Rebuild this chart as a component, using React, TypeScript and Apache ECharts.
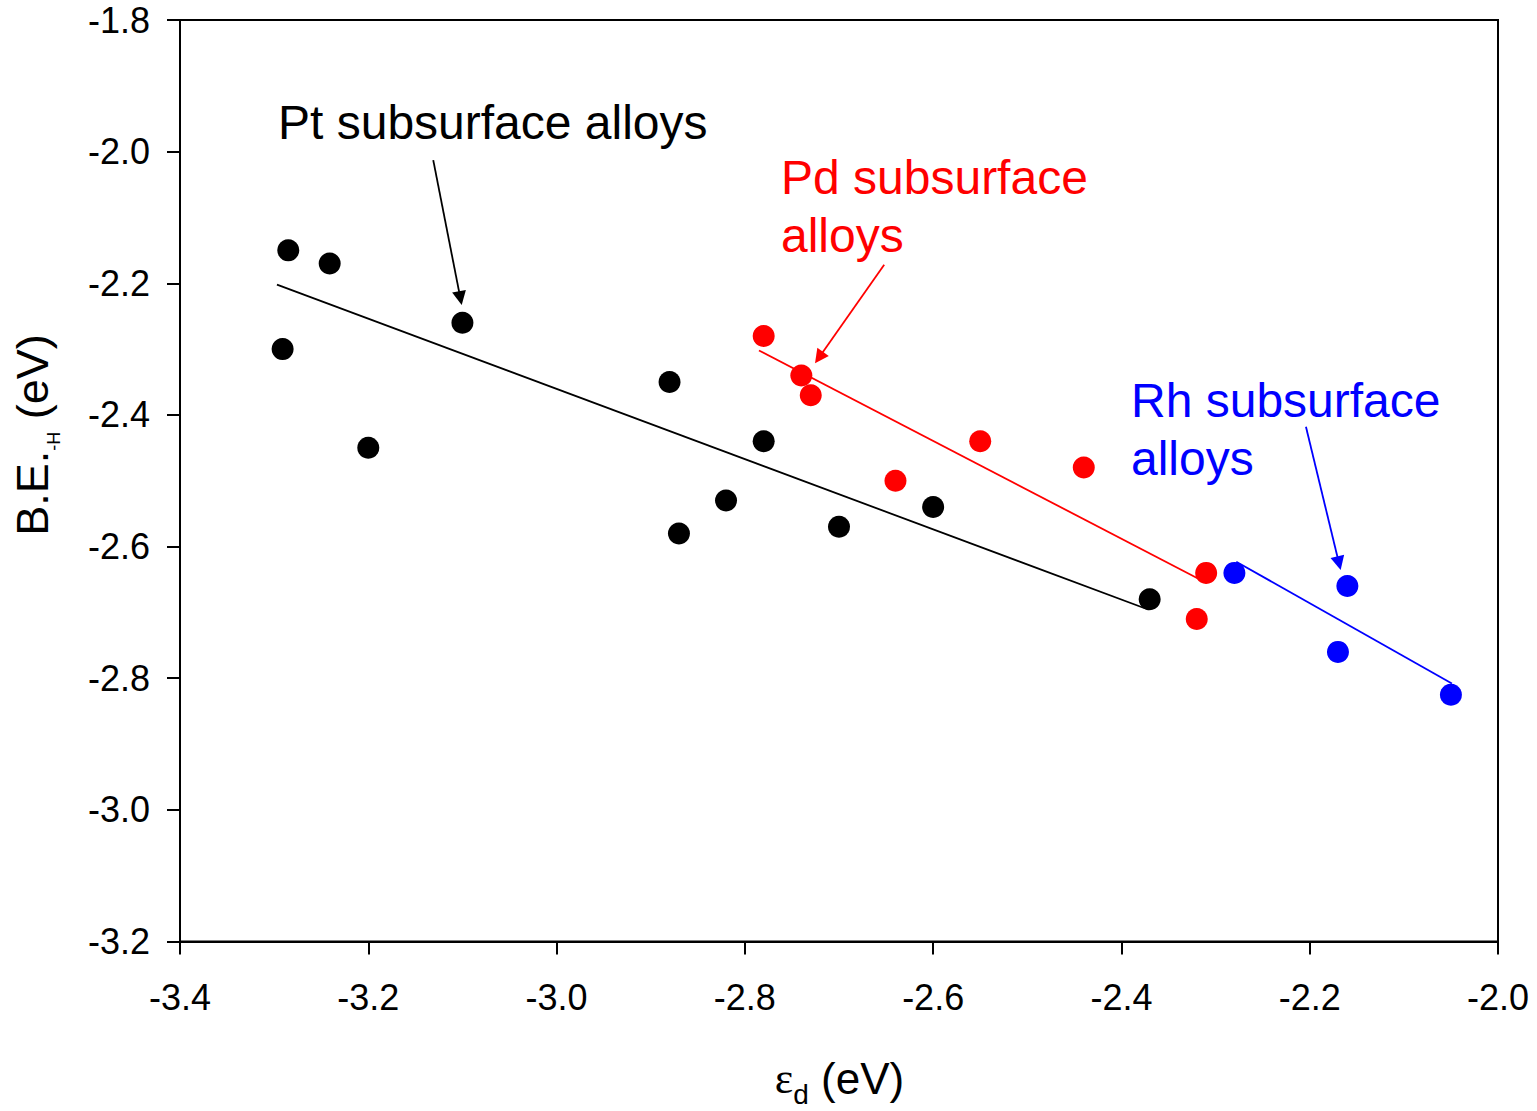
import React, { useEffect, useRef } from "react";
import * as echarts from "echarts";

// Pt subsurface alloys (black)
const ptX = [-3.285, -3.241, -3.291, -3.2, -3.1, -2.88, -2.87, -2.82, -2.78, -2.7, -2.6, -2.37];
const ptY = [-2.15, -2.17, -2.3, -2.45, -2.26, -2.35, -2.58, -2.53, -2.44, -2.57, -2.54, -2.68];
// Pd subsurface alloys (red)
const pdX = [-2.78, -2.74, -2.73, -2.55, -2.64, -2.44, -2.31, -2.32];
const pdY = [-2.28, -2.34, -2.37, -2.44, -2.5, -2.48, -2.64, -2.71];
// Rh subsurface alloys (blue)
const rhX = [-2.28, -2.16, -2.17, -2.05];
const rhY = [-2.64, -2.66, -2.76, -2.825];

// fitted trend lines (end points)
const ptFit = [[-3.297, -2.202], [-2.371, -2.696]];
const pdFit = [[-2.785, -2.302], [-2.31, -2.655]];
const rhFit = [[-2.278, -2.623], [-2.049, -2.808]];

// annotation arrows (start, head)
const ptArrow = [[-3.131, -2.013], [-3.1022, -2.2225]];
const pdArrow = [[-2.652, -2.172], [-2.7212, -2.3129]];
const rhArrow = [[-2.204, -2.418], [-2.1689, -2.6253]];

const xTicks = { min: -3.4, max: -2.0, interval: 0.2 };
const yTicks = { min: -3.2, max: -1.8, interval: 0.2 };

const FONT = "'Liberation Sans', Arial, Helvetica, sans-serif";

const zip = (xs: number[], ys: number[]) => xs.map((x, i) => [x, ys[i]]);

export default function App() {
  const ref = useRef<HTMLDivElement>(null);
  useEffect(() => {
    if (!ref.current) return;
    const chart = echarts.init(ref.current, undefined, { renderer: "svg" });
    const scatter = (name: string, data: number[][], color: string) => ({
      name,
      type: "scatter",
      data,
      symbol: "circle",
      symbolSize: 22,
      itemStyle: { color, opacity: 1 },
      z: 3,
    });
    const fit = (data: number[][], color: string) => ({
      type: "line",
      data,
      symbol: "none",
      lineStyle: { color, width: 1.8 },
      z: 4,
    });
    const arrow = (coords: number[][], color: string) => ({
      type: "lines",
      coordinateSystem: "cartesian2d",
      symbol: ["none", "triangle"],
      symbolSize: [0, 14],
      lineStyle: { color, width: 1.8, opacity: 1, curveness: 0 },
      itemStyle: { color },
      data: [{ coords }],
      z: 5,
    });
    const note = (text: string, x: number, y: number, color: string) => ({
      type: "text",
      x,
      y,
      style: { text, fill: color, fontSize: 48, fontFamily: FONT, align: "left", verticalAlign: "middle" },
    });
    chart.setOption({
      animation: false,
      backgroundColor: "#fff",
      grid: {
        left: 180,
        top: 20,
        width: 1318,
        height: 921.5,
        show: true,
        borderColor: "#000",
        borderWidth: 2,
      },
      xAxis: {
        type: "value",
        min: xTicks.min,
        max: xTicks.max,
        interval: xTicks.interval,
        splitLine: { show: false },
        axisLine: { show: true, onZero: false, lineStyle: { color: "#000", width: 2 } },
        axisTick: { show: true, length: 13, lineStyle: { color: "#000", width: 2 } },
        axisLabel: {
          color: "#000",
          fontSize: 36,
          fontFamily: FONT,
          margin: 38,
          formatter: (v: number) => v.toFixed(1),
        },
      },
      yAxis: {
        type: "value",
        min: yTicks.min,
        max: yTicks.max,
        interval: yTicks.interval,
        splitLine: { show: false },
        axisLine: { show: true, onZero: false, lineStyle: { color: "#000", width: 2 } },
        axisTick: { show: true, length: 13, lineStyle: { color: "#000", width: 2 } },
        axisLabel: {
          color: "#000",
          fontSize: 36,
          fontFamily: FONT,
          margin: 30,
          formatter: (v: number) => v.toFixed(1),
        },
      },
      series: [
        fit(ptFit, "#000"),
        fit(pdFit, "#ff0000"),
        fit(rhFit, "#0000ff"),
        scatter("Pt", zip(ptX, ptY), "#000"),
        scatter("Pd", zip(pdX, pdY), "#ff0000"),
        scatter("Rh", zip(rhX, rhY), "#0000ff"),
        arrow(ptArrow, "#000"),
        arrow(pdArrow, "#ff0000"),
        arrow(rhArrow, "#0000ff"),
      ],
      graphic: [
        note("Pt subsurface alloys", 278, 122, "#000"),
        note("Pd subsurface", 781, 177, "#ff0000"),
        note("alloys", 781, 235, "#ff0000"),
        note("Rh subsurface", 1131, 400, "#0000ff"),
        note("alloys", 1131, 458, "#0000ff"),
        {
          type: "text",
          x: 36,
          y: 435,
          rotation: Math.PI / 2,
          style: {
            text: "{m|B.E.}{s|-H}{m| (eV)}",
            align: "center",
            verticalAlign: "middle",
            fill: "#000",
            rich: {
              m: { fontSize: 45, lineHeight: 45, verticalAlign: "top", fontFamily: FONT, fill: "#000" },
              s: { fontSize: 18, lineHeight: 53, verticalAlign: "bottom", fontFamily: FONT, fill: "#000" },
            },
          },
        },
        {
          type: "text",
          x: 839.5,
          y: 1082,
          style: {
            text: "{e|ε}{s|d}{m| (eV)}",
            align: "center",
            verticalAlign: "middle",
            fill: "#000",
            rich: {
              e: { fontSize: 44, lineHeight: 44, verticalAlign: "top", fontFamily: "'Liberation Serif', 'DejaVu Serif', serif", fill: "#000" },
              m: { fontSize: 44, lineHeight: 44, verticalAlign: "top", fontFamily: FONT, fill: "#000" },
              s: { fontSize: 28, lineHeight: 52, verticalAlign: "bottom", fontFamily: FONT, fill: "#000" },
            },
          },
        },
      ],
    });
    return () => chart.dispose();
  }, []);
  return (
    <div
      ref={ref}
      style={{ position: "absolute", left: 0, top: 0, width: 1537, height: 1111 }}
    />
  );
}
